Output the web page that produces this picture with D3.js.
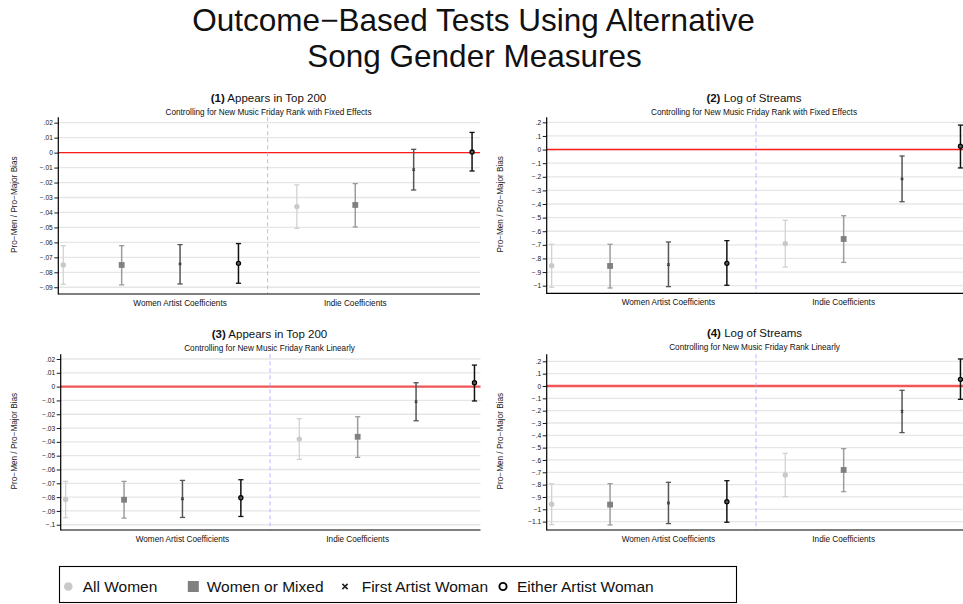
<!DOCTYPE html>
<html>
<head>
<meta charset="utf-8">
<script src="https://cdn.jsdelivr.net/npm/d3@7"></script>
<style>
    body { margin: 0; background: #fff; }
    svg { display: block; font-family: "Liberation Sans", Arial, Helvetica, sans-serif; }
</style>
</head>
<body>
<svg id="chart" width="963" height="604"></svg>
<script>
'use strict';

/* global d3 */

// --- data ---
var SERIES = ["All Women", "Women or Mixed", "First Artist Woman", "Either Artist Woman"];
var GROUP_LABELS = ["Women Artist Coefficients", "Indie Coefficients"];
var GROUP_LABEL_POS = [3, 6];
var POINT_POS = [1, 2, 3, 4, 5, 6, 7, 8];
var POINT_SERIES = [0, 1, 2, 3, 0, 1, 2, 3];
var DIVIDER_POS = 4.5;

var PANEL_NUMS = ["(1)", "(2)", "(3)", "(4)"];
var PANEL_TITLES = ["Appears in Top 200", "Log of Streams", "Appears in Top 200", "Log of Streams"];
var PANEL_SUBTITLES = [
    "Controlling for New Music Friday Rank with Fixed Effects",
    "Controlling for New Music Friday Rank with Fixed Effects",
    "Controlling for New Music Friday Rank Linearly",
    "Controlling for New Music Friday Rank Linearly"
];

var P1_COEF = [-0.0751, -0.0751, -0.0744, -0.0740, -0.0361, -0.0350, -0.0114, 0.0004];
var P1_LO = [-0.0880, -0.0884, -0.0878, -0.0873, -0.0506, -0.0497, -0.0250, -0.0123];
var P1_HI = [-0.0622, -0.0622, -0.0615, -0.0608, -0.0216, -0.0207, 0.0022, 0.0135];

var P2_COEF = [-0.853, -0.855, -0.846, -0.836, -0.691, -0.657, -0.216, 0.024];
var P2_LO = [-1.012, -1.017, -1.007, -0.997, -0.863, -0.829, -0.383, -0.135];
var P2_HI = [-0.696, -0.696, -0.679, -0.669, -0.520, -0.486, -0.047, 0.180];

var P3_COEF = [-0.0817, -0.0819, -0.0812, -0.0804, -0.0380, -0.0363, -0.0109, 0.0028];
var P3_LO = [-0.0949, -0.0952, -0.0947, -0.0940, -0.0527, -0.0512, -0.0247, -0.0104];
var P3_HI = [-0.0686, -0.0686, -0.0679, -0.0674, -0.0232, -0.0218, 0.0028, 0.0156];

var P4_COEF = [-0.959, -0.962, -0.949, -0.938, -0.722, -0.681, -0.205, 0.054];
var P4_LO = [-1.124, -1.127, -1.116, -1.105, -0.897, -0.857, -0.378, -0.108];
var P4_HI = [-0.792, -0.792, -0.781, -0.768, -0.546, -0.508, -0.035, 0.219];

var P1_TICKS = [0.02, 0.01, 0, -0.01, -0.02, -0.03, -0.04, -0.05, -0.06, -0.07, -0.08, -0.09];
var P2_TICKS = [0.2, 0.1, 0, -0.1, -0.2, -0.3, -0.4, -0.5, -0.6, -0.7, -0.8, -0.9, -1];
var P3_TICKS = [0.02, 0.01, 0, -0.01, -0.02, -0.03, -0.04, -0.05, -0.06, -0.07, -0.08, -0.09, -0.1];
var P4_TICKS = [0.2, 0.1, 0, -0.1, -0.2, -0.3, -0.4, -0.5, -0.6, -0.7, -0.8, -0.9, -1, -1.1];

// --- layout ---
var svg = d3.select("#chart");

var panels = [
    {coef: P1_COEF, lo: P1_LO, hi: P1_HI, ticks: P1_TICKS, dom: [-0.0945, 0.0236],
        left: 58.3, right: 480, top: 117.3, bottom: 294, titleX: 268.5, titleY: 101.5, red: "#ff1a1a", redW: 1.4},
    {coef: P2_COEF, lo: P2_LO, hi: P2_HI, ticks: P2_TICKS, dom: [-1.056, 0.237],
        left: 546.7, right: 966, top: 117.3, bottom: 293.3, titleX: 754, titleY: 101.5, red: "#ff1a1a", redW: 1.4},
    {coef: P3_COEF, lo: P3_LO, hi: P3_HI, ticks: P3_TICKS, dom: [-0.1038, 0.0234],
        left: 60.7, right: 480.5, top: 354.3, bottom: 530, titleX: 269.5, titleY: 337.5, red: "#f25555", redW: 2.4},
    {coef: P4_COEF, lo: P4_LO, hi: P4_HI, ticks: P4_TICKS, dom: [-1.168, 0.257],
        left: 546.7, right: 966, top: 354.3, bottom: 530, titleX: 754.5, titleY: 337, red: "#f25555", redW: 2.4}
];

var markerFill = ["#c9c9c9", "#808080", "#404040", "none"];
var markerStroke = ["none", "none", "#404040", "#000"];
var barColor = ["#d2d2d2", "#9c9c9c", "#555555", "#111111"];

function fmtTick(v) {
    if (v === 0) { return "0"; }
    var s = String(Math.abs(v)).replace(/^0\./, ".");
    return (v < 0 ? "\u2212" : "") + s;
}

function drawMarker(g, s, cx, cy, big) {
    var k = big ? 1.6 : 1;
    if (s === 0) {
        g.append("circle").attr("cx", cx).attr("cy", cy).attr("r", 2.7 * k)
            .attr("fill", markerFill[0]);
    } else if (s === 1) {
        var h = (big ? 5.5 : 2.9);
        g.append("rect").attr("x", cx - h).attr("y", cy - h)
            .attr("width", 2 * h).attr("height", 2 * h).attr("fill", markerFill[1]);
    } else if (s === 2) {
        var d = big ? 2.6 : 1.2;
        g.append("path")
            .attr("d", "M" + (cx - d) + "," + (cy - d) + "L" + (cx + d) + "," + (cy + d) +
                "M" + (cx - d) + "," + (cy + d) + "L" + (cx + d) + "," + (cy - d))
            .attr("stroke", big ? "#222" : markerStroke[2]).attr("stroke-width", big ? 1.6 : 1.3);
    } else {
        g.append("circle").attr("cx", cx).attr("cy", cy).attr("r", big ? 3.6 : 2.1)
            .attr("fill", big ? "none" : "#555").attr("stroke", markerStroke[3]).attr("stroke-width", big ? 1.9 : 1.2);
    }
}

function drawPanel(p, i) {
    var g = svg.append("g").attr("class", "panel");

    // same unit width in every panel, starting just left of the first point
    var x = d3.scaleLinear().domain([0.915, 8.12]).range([p.left, p.left + 58.4 * 7.205]);
    var y = d3.scaleLinear().domain(p.dom).range([p.bottom, p.top]);

    // grid
    g.selectAll("line.grid").data(p.ticks).enter()
        .append("line").attr("class", "grid")
        .attr("x1", p.left).attr("x2", p.right)
        .attr("y1", function (d) { return y(d); })
        .attr("y2", function (d) { return y(d); })
        .attr("stroke", "#e6e6e6").attr("stroke-width", 1.3);

    // zero line
    g.append("line")
        .attr("x1", p.left).attr("x2", p.right)
        .attr("y1", y(0)).attr("y2", y(0))
        .attr("stroke", p.red).attr("stroke-width", p.redW);

    // divider
    g.append("line")
        .attr("x1", x(DIVIDER_POS)).attr("x2", x(DIVIDER_POS))
        .attr("y1", p.top).attr("y2", p.bottom)
        .attr("stroke", "#aab0ff").attr("stroke-width", 0.9)
        .attr("stroke-dasharray", "4,3");

    // y axis
    var yAxis = d3.axisLeft(y).tickValues(p.ticks).tickFormat(fmtTick).tickSize(4).tickPadding(1.5);
    var gy = g.append("g").attr("transform", "translate(" + p.left + ",0)").call(yAxis);
    gy.select(".domain").remove();
    gy.selectAll(".tick line").attr("stroke", "#000").attr("stroke-width", 0.9);
    gy.selectAll(".tick text").attr("font-size", "6.6px").attr("fill", "#111")
        .attr("font-family", "Liberation Sans, Arial, sans-serif");
    g.append("line").attr("x1", p.left).attr("x2", p.left)
        .attr("y1", p.top).attr("y2", p.bottom + 0.6)
        .attr("stroke", "#000").attr("stroke-width", 1.2);
    g.append("line").attr("x1", p.left).attr("x2", p.right)
        .attr("y1", p.bottom).attr("y2", p.bottom)
        .attr("stroke", "#000").attr("stroke-width", 1.2);

    // group labels
    g.selectAll("text.grp").data(GROUP_LABELS).enter()
        .append("text").attr("class", "grp")
        .attr("x", function (d, j) { return x(GROUP_LABEL_POS[j]); })
        .attr("y", p.bottom + 12)
        .attr("text-anchor", "middle").attr("font-size", "8.2px").attr("fill", "#111")
        .text(function (d) { return d; });

    // y label
    var ylx = p.left < 100 ? 14 : 500;
    g.append("text")
        .attr("transform", "translate(" + ylx + "," + ((p.top + p.bottom) / 2 - 1) + ") rotate(-90)")
        .attr("text-anchor", "middle").attr("dy", "0.35em")
        .attr("font-size", "8.2px").attr("fill", "#222")
        .text("Pro\u2212Men / Pro\u2212Major Bias");

    // titles
    var t = g.append("text").attr("x", p.titleX).attr("y", p.titleY)
        .attr("text-anchor", "middle").attr("font-size", "11.5px").attr("fill", "#111");
    t.append("tspan").attr("font-weight", "bold").text(PANEL_NUMS[i]);
    t.append("tspan").text(" " + PANEL_TITLES[i]);
    g.append("text").attr("x", p.titleX).attr("y", p.titleY + 13)
        .attr("text-anchor", "middle").attr("font-size", "8.2px").attr("fill", "#111")
        .text(PANEL_SUBTITLES[i]);

    // error bars
    POINT_POS.forEach(function (pos, k) {
        var s = POINT_SERIES[k];
        var cx = x(pos);
        var col = barColor[s];
        var w = s === 0 ? 1.3 : 1.5;
        g.append("line").attr("x1", cx).attr("x2", cx)
            .attr("y1", y(p.lo[k])).attr("y2", y(p.hi[k]))
            .attr("stroke", col).attr("stroke-width", w);
        [p.lo[k], p.hi[k]].forEach(function (v) {
            g.append("line").attr("x1", cx - 2.6).attr("x2", cx + 2.6)
                .attr("y1", y(v)).attr("y2", y(v))
                .attr("stroke", col).attr("stroke-width", 1.3);
        });
        drawMarker(g, s, cx, y(p.coef[k]), false);
    });
}

panels.forEach(drawPanel);

// main title
svg.append("text").attr("x", 473.5).attr("y", 31)
    .attr("text-anchor", "middle").attr("font-size", "31.5px").attr("fill", "#111")
    .text("Outcome\u2212Based Tests Using Alternative");
svg.append("text").attr("x", 474.5).attr("y", 66.5)
    .attr("text-anchor", "middle").attr("font-size", "31.5px").attr("fill", "#111")
    .text("Song Gender Measures");

// legend
var LEGEND_MARK_X = [68.3, 193.3, 345, 503];
var LEGEND_TEXT_X = [82.7, 206.7, 361.7, 517];
var legend = svg.append("g").attr("class", "legend");
legend.append("rect").attr("x", 59.5).attr("y", 566.5)
    .attr("width", 677).attr("height", 36)
    .attr("fill", "#fff").attr("stroke", "#000").attr("stroke-width", 1.1);
SERIES.forEach(function (name, s) {
    drawMarker(legend, s, LEGEND_MARK_X[s], 586.5, true);
    legend.append("text").attr("x", LEGEND_TEXT_X[s]).attr("y", 592)
        .attr("font-size", "15.5px").attr("fill", "#111").text(name);
});
</script>
</body>
</html>
